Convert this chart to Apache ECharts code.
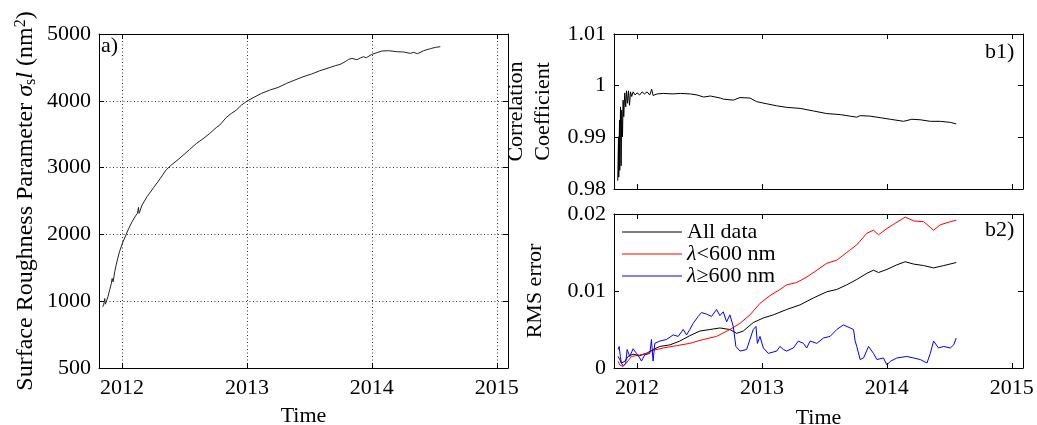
<!DOCTYPE html>
<html>
<head>
<meta charset="utf-8">
<script src="https://cdn.jsdelivr.net/npm/echarts@6/dist/echarts.min.js"></script>
<style>
html,body{margin:0;padding:0;background:#fff;}
#c{width:1037px;height:425px;}
</style>
</head>
<body>
<div id="c"></div>
<script>
// ---- data ----
const xTickLabels = ['2012','2013','2014','2015'];
const aTickLabels = ['500','1000','2000','3000','4000','5000'];
const b1TickLabels = ['0.98','0.99','1','1.01'];
const b2TickLabels = ['0','0.01','0.02'];

const roughness = [
[2011.845,915],[2011.853,955],[2011.861,1040],[2011.866,955],[2011.877,1015],[2011.888,1075],
[2011.901,1175],[2011.914,1265],[2011.920,1340],[2011.928,1290],[2011.941,1440],[2011.952,1540],
[2011.965,1640],[2011.979,1740],[2012.000,1855],[2012.027,1975],[2012.053,2090],[2012.080,2190],
[2012.107,2275],[2012.123,2315],[2012.131,2405],[2012.136,2315],[2012.160,2440],[2012.200,2565],
[2012.254,2705],[2012.307,2840],[2012.348,2955],[2012.388,3030],[2012.455,3130],[2012.540,3270],
[2012.594,3360],[2012.647,3430],[2012.701,3510],[2012.754,3600],[2012.781,3635],[2012.834,3750],
[2012.874,3810],[2012.914,3860],[2012.955,3935],[2013.000,3995],[2013.048,4045],[2013.115,4110],
[2013.182,4160],[2013.249,4200],[2013.316,4260],[2013.382,4310],[2013.449,4360],[2013.516,4400],
[2013.583,4450],[2013.666,4500],[2013.706,4525],[2013.746,4545],[2013.786,4585],[2013.813,4620],
[2013.840,4635],[2013.880,4615],[2013.906,4640],[2013.933,4660],[2013.955,4645],[2014.000,4695],
[2014.040,4720],[2014.080,4745],[2014.134,4750],[2014.200,4735],[2014.254,4730],[2014.307,4710],
[2014.334,4725],[2014.366,4705],[2014.414,4750],[2014.468,4780],[2014.508,4800],[2014.548,4810]
];

const correlation = [
[2011.845,0.9816],[2011.851,0.9901],[2011.853,0.9823],[2011.859,0.9933],[2011.861,0.9836],
[2011.867,0.9959],[2011.872,0.9845],[2011.877,0.9953],[2011.883,0.9901],[2011.888,0.9972],
[2011.893,0.9940],[2011.901,0.9986],[2011.909,0.9959],[2011.915,0.9990],[2011.923,0.9966],
[2011.931,0.9990],[2011.939,0.9962],[2011.947,0.9988],[2011.957,0.9979],[2011.968,0.9988],
[2011.984,0.9982],[2012.000,0.9986],[2012.021,0.9982],[2012.040,0.9988],[2012.059,0.9984],
[2012.080,0.9988],[2012.101,0.9982],[2012.117,0.9993],[2012.128,0.9981],[2012.160,0.9984],
[2012.213,0.9985],[2012.280,0.9984],[2012.347,0.9985],[2012.427,0.9984],[2012.480,0.9982],
[2012.533,0.9978],[2012.587,0.9980],[2012.667,0.9976],[2012.690,0.9974],[2012.770,0.9972],
[2012.824,0.9977],[2012.904,0.9976],[2012.957,0.9969],[2013.037,0.9965],[2013.118,0.9961],
[2013.198,0.9958],[2013.305,0.9956],[2013.412,0.9951],[2013.519,0.9946],[2013.626,0.9944],
[2013.706,0.9941],[2013.759,0.9939],[2013.786,0.9942],[2013.866,0.9941],[2013.947,0.9938],
[2014.027,0.9935],[2014.134,0.9931],[2014.200,0.9935],[2014.267,0.9934],[2014.348,0.9931],
[2014.428,0.9931],[2014.508,0.9929],[2014.556,0.9926]
];

const rmsAll = [
[2011.848,0.0015],[2011.861,0.0011],[2011.874,0.00065],[2011.901,0.00086],[2011.928,0.0015],
[2011.968,0.0018],[2012.021,0.0016],[2012.075,0.0019],[2012.128,0.0024],[2012.182,0.0028],
[2012.262,0.0030],[2012.342,0.0035],[2012.422,0.0042],[2012.503,0.0048],[2012.583,0.0050],
[2012.663,0.0052],[2012.743,0.0050],[2012.797,0.0045],[2012.850,0.0048],[2012.930,0.0059],
[2013.011,0.0065],[2013.091,0.0069],[2013.198,0.0076],[2013.305,0.0082],[2013.412,0.0091],
[2013.519,0.0099],[2013.599,0.0102],[2013.679,0.0108],[2013.759,0.0115],[2013.840,0.0123],
[2013.893,0.0127],[2013.933,0.0124],[2014.000,0.0128],[2014.080,0.0134],[2014.147,0.0138],
[2014.214,0.0135],[2014.294,0.0133],[2014.374,0.0130],[2014.455,0.0133],[2014.556,0.0137]
];

const rmsShort = [
[2011.848,0.00086],[2011.861,0.0004],[2011.888,0.0002],[2011.914,0.00065],[2011.955,0.0015],
[2012.021,0.0017],[2012.075,0.0019],[2012.128,0.0023],[2012.209,0.0026],[2012.316,0.0029],
[2012.422,0.0032],[2012.529,0.0037],[2012.636,0.0041],[2012.743,0.0050],[2012.824,0.0058],
[2012.904,0.0069],[2012.984,0.0084],[2013.064,0.0094],[2013.144,0.0102],[2013.198,0.0108],
[2013.278,0.0111],[2013.358,0.0118],[2013.439,0.0127],[2013.519,0.0136],[2013.599,0.0140],
[2013.679,0.0150],[2013.759,0.0160],[2013.840,0.0175],[2013.893,0.0179],[2013.933,0.0173],
[2014.000,0.0181],[2014.067,0.0188],[2014.147,0.0196],[2014.214,0.0191],[2014.294,0.0190],
[2014.374,0.0179],[2014.428,0.0186],[2014.508,0.0190],[2014.556,0.0192]
];

const rmsLong = [
[2011.848,0.0024],[2011.856,0.0028],[2011.866,0.0015],[2011.874,0.00065],[2011.888,0.0003],
[2011.909,0.00065],[2011.920,0.0024],[2011.941,0.0015],[2011.968,0.0025],[2011.995,0.0019],
[2012.021,0.0013],[2012.035,0.0009],[2012.061,0.0017],[2012.102,0.0019],[2012.115,0.0037],
[2012.128,0.0009],[2012.142,0.0032],[2012.182,0.0035],[2012.235,0.0037],[2012.289,0.0043],
[2012.329,0.0041],[2012.369,0.0050],[2012.396,0.0043],[2012.422,0.0050],[2012.449,0.0058],
[2012.489,0.0067],[2012.516,0.0072],[2012.556,0.0070],[2012.596,0.0067],[2012.636,0.0076],
[2012.663,0.0068],[2012.690,0.0073],[2012.717,0.0060],[2012.743,0.0069],[2012.770,0.0054],
[2012.791,0.0028],[2012.824,0.0022],[2012.877,0.0024],[2012.930,0.0050],[2012.952,0.0054],
[2012.963,0.0032],[2012.984,0.0041],[2013.011,0.0026],[2013.051,0.0019],[2013.118,0.0022],
[2013.144,0.0028],[2013.171,0.0024],[2013.198,0.0022],[2013.251,0.0026],[2013.291,0.0035],
[2013.332,0.0032],[2013.358,0.0026],[2013.385,0.0035],[2013.439,0.0032],[2013.492,0.0039],
[2013.545,0.0041],[2013.599,0.0050],[2013.652,0.0056],[2013.706,0.0052],[2013.733,0.0050],
[2013.746,0.0035],[2013.759,0.0028],[2013.786,0.0011],[2013.813,0.0013],[2013.853,0.0028],
[2013.893,0.0019],[2013.920,0.0011],[2013.973,0.0013],[2014.000,0.0004],[2014.027,0.00086],
[2014.080,0.0013],[2014.160,0.0015],[2014.214,0.0013],[2014.267,0.0011],[2014.321,0.00065],
[2014.348,0.0019],[2014.374,0.0035],[2014.414,0.0026],[2014.455,0.0028],[2014.508,0.0026],
[2014.535,0.0030],[2014.556,0.0039]
];

const seriesNames = ['All data','λ<600 nm','λ≥600 nm'];

// ---- chart ----
const FONT = 'Liberation Serif';
const XMIN = 2011.815, XMAX = 2015.09;
const chart = echarts.init(document.getElementById('c'), null, {renderer:'canvas'});

function xAx(grid, pos, showLabels, name, grid0, gap) {
  return {
    type:'value', gridIndex:grid, position:pos, min:XMIN, max:XMAX,
    splitNumber:3, minInterval:1, maxInterval:1,
    axisLine:{show:true, onZero:false, lineStyle:{color:'#000', width:1}},
    axisTick:{show:true, inside:true, length:5, lineStyle:{color:'#000'}},
    axisLabel:{show:showLabels, fontFamily:FONT, fontSize:22, color:'#000', margin:9,
      showMinLabel:false, showMaxLabel:false,
      formatter:v => { const i = xTickLabels.indexOf(String(Math.round(v))); return Math.abs(v-Math.round(v))<1e-6 && i>=0 ? xTickLabels[i] : ''; }},
    splitLine:{show:!!grid0, lineStyle:{color:'#333', type:[1,2.5], width:1}},
    name:name||'', nameLocation:'middle', nameGap:gap||36,
    nameTextStyle:{fontFamily:FONT, fontSize:22, color:'#000'}
  };
}
function yAx(grid, pos, min, max, interval, labels, name, nameGap, extra) {
  return Object.assign({
    type:'value', gridIndex:grid, position:pos, min:min, max:max, interval:interval,
    axisLine:{show:true, onZero:false, lineStyle:{color:'#000', width:1}},
    axisTick:{show:true, inside:true, length:5, lineStyle:{color:'#000'}},
    axisLabel:{show:!!labels, fontFamily:FONT, fontSize:22, color:'#000', margin:8,
      formatter:v => labels ? labels[Math.round((v-min)/interval)] : ''},
    splitLine:{show:false},
    name:name||'', nameLocation:'middle', nameGap:nameGap||0,
    nameTextStyle:{fontFamily:FONT, fontSize:22, color:'#000'}
  }, extra||{});
}

const option = {
  animation:false,
  backgroundColor:'#fff',
  grid:[
    {left:99, top:34, width:409, height:334, containLabel:false, outerBoundsMode:'none'},
    {left:614, top:34, width:409, height:155, containLabel:false, outerBoundsMode:'none'},
    {left:614, top:214, width:409, height:154, containLabel:false, outerBoundsMode:'none'}
  ],
  xAxis:[
    xAx(0,'bottom',true,'Time',true,37),
    xAx(0,'top',false),
    xAx(1,'bottom',false),
    xAx(1,'top',false),
    xAx(2,'bottom',true,'Time',false,39),
    xAx(2,'top',false)
  ],
  yAxis:[
    yAx(0,'left',0,5000,1000,aTickLabels,
      '{n|Surface Roughness Parameter }{i|σ}{sub|s}{i|l}{n| (nm}{sup|2}{n|)}',60,
      {splitLine:{show:true, lineStyle:{color:'#333', type:[1,2.5], width:1}},
       nameTextStyle:{fontFamily:FONT, fontSize:24, color:'#000', rich:{
         n:{fontFamily:FONT, fontSize:24, color:'#000', lineHeight:26},
         i:{fontFamily:FONT, fontSize:24, fontStyle:'italic', color:'#000', lineHeight:26},
         sub:{fontFamily:FONT, fontSize:16, color:'#000', lineHeight:12, verticalAlign:'bottom'},
         sup:{fontFamily:FONT, fontSize:16, color:'#000', lineHeight:13, verticalAlign:'top'}
       }}}),
    yAx(0,'right',0,5000,1000,null),
    yAx(1,'left',0.98,1.01,0.01,b1TickLabels,'Correlation\nCoefficient',57,
      {nameTextStyle:{fontFamily:FONT, fontSize:22, color:'#000', lineHeight:27}}),
    yAx(1,'right',0.98,1.01,0.01,null),
    yAx(2,'left',0,0.02,0.01,b2TickLabels,'RMS error',68),
    yAx(2,'right',0,0.02,0.01,null)
  ],
  legend:{
    orient:'vertical', left:617, top:216, itemWidth:60, itemHeight:1, itemGap:0,
    icon:'rect', selectedMode:false, data:seriesNames,
    textStyle:{fontFamily:FONT, fontSize:22, color:'#000', lineHeight:22,
      rich:{i:{fontFamily:FONT, fontSize:22, fontStyle:'italic', color:'#000'},
            n:{fontFamily:FONT, fontSize:22, color:'#000'}}},
    formatter:name => name.startsWith('λ') ? '{i|λ}{n|' + name.slice(1) + '}' : '{n|' + name + '}'
  },
  graphic:[
    {type:'text', left:101, top:35, style:{text:'a)', font:'22px "Liberation Serif"', fill:'#000'}},
    {type:'text', left:985, top:41, style:{text:'b1)', font:'22px "Liberation Serif"', fill:'#000'}},
    {type:'text', left:985, top:219, style:{text:'b2)', font:'22px "Liberation Serif"', fill:'#000'}}
  ],
  series:[
    {type:'line', xAxisIndex:0, yAxisIndex:0, data:roughness, symbol:'none',
      lineStyle:{color:'#222', width:1}},
    {type:'line', xAxisIndex:2, yAxisIndex:2, data:correlation, symbol:'none',
      lineStyle:{color:'#000', width:1}},
    {name:seriesNames[0], type:'line', xAxisIndex:4, yAxisIndex:4, data:rmsAll, symbol:'none',
      itemStyle:{color:'#000'}, lineStyle:{color:'#000', width:1}},
    {name:seriesNames[1], type:'line', xAxisIndex:4, yAxisIndex:4, data:rmsShort, symbol:'none',
      itemStyle:{color:'#ff0000'}, lineStyle:{color:'#ff0000', width:1}},
    {name:seriesNames[2], type:'line', xAxisIndex:4, yAxisIndex:4, data:rmsLong, symbol:'none',
      itemStyle:{color:'#0000ff'}, lineStyle:{color:'#0000ff', width:1}}
  ]
};
chart.setOption(option);
</script>
</body>
</html>
